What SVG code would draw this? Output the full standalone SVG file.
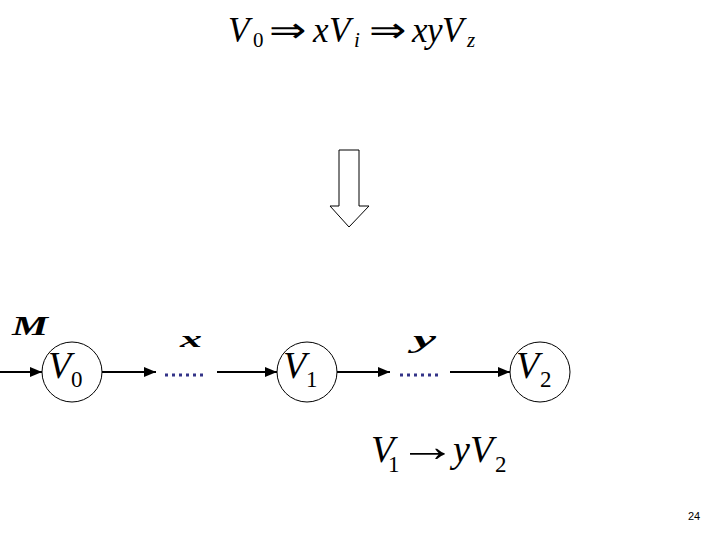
<svg xmlns="http://www.w3.org/2000/svg" width="720" height="540" viewBox="0 0 720 540">
<defs>
<style>
text.math{font-family:"Liberation Serif","Times New Roman",serif;fill:#000}
.it{font-style:italic}
.node circle{fill:#fff;stroke:#000;stroke-width:1}
.edge{stroke:#000;stroke-width:2;fill:none}
.dots{stroke:#333388;stroke-width:3;stroke-dasharray:3 4;fill:none}
.lbl{font-family:"Liberation Serif","Times New Roman",serif;font-style:italic;font-weight:bold;fill:#000}
</style>
<marker id="ah" markerUnits="userSpaceOnUse" markerWidth="13" markerHeight="11" refX="12" refY="5" orient="auto">
<path d="M0,0 L12,5 L0,10 z" fill="#000"/>
</marker>
</defs>
<rect width="720" height="540" fill="#fff"/>

<g id="top-equation">
<text class="math" font-family="Liberation Serif, serif" font-size="35"><tspan class="it" x="228" y="42">V</tspan><tspan x="253" y="47" font-size="21">0</tspan><tspan x="269" y="42" textLength="37" lengthAdjust="spacingAndGlyphs">⇒</tspan><tspan class="it" x="313" y="42">x</tspan><tspan class="it" x="329" y="42">V</tspan><tspan class="it" x="354" y="47" font-size="21">i</tspan><tspan x="369" y="42" textLength="37" lengthAdjust="spacingAndGlyphs">⇒</tspan><tspan class="it" x="412" y="42">x</tspan><tspan class="it" x="427" y="42">y</tspan><tspan class="it" x="442" y="42">V</tspan><tspan class="it" x="467" y="47" font-size="21">z</tspan></text>
</g>

<g id="block-arrow">
<polygon points="339,150 359,150 359,206 369,206 349,227 330,206 339,206" fill="#fff" stroke="#000" stroke-width="1"/>
</g>

<g id="connectors">
<line class="edge" x1="0" y1="372" x2="42" y2="372" marker-end="url(#ah)"/>
<line class="edge" x1="102" y1="372" x2="156" y2="372" marker-end="url(#ah)"/>
<line class="dots" x1="165" y1="375" x2="207" y2="375"/>
<line class="edge" x1="217" y1="372" x2="277" y2="372" marker-end="url(#ah)"/>
<line class="edge" x1="337" y1="372" x2="390" y2="372" marker-end="url(#ah)"/>
<line class="dots" x1="400" y1="375" x2="442" y2="375"/>
<line class="edge" x1="450" y1="372" x2="510" y2="372" marker-end="url(#ah)"/>
<text class="lbl" x="12" y="335" font-size="27" textLength="36" lengthAdjust="spacingAndGlyphs">M</text>
<text class="lbl" x="180" y="347" font-size="24" textLength="22" lengthAdjust="spacingAndGlyphs">x</text>
<text class="lbl" x="413" y="348" font-size="26" textLength="23" lengthAdjust="spacingAndGlyphs">y</text>
</g>

<g id="node-V0" class="node">
<circle cx="72" cy="372" r="30"/>
<text class="math" font-family="Liberation Serif, serif"><tspan class="it" x="48" y="378" font-size="38">V</tspan><tspan x="71" y="387" font-size="23">0</tspan></text>
</g>
<g id="node-V1" class="node">
<circle cx="307" cy="372" r="30"/>
<text class="math" font-family="Liberation Serif, serif"><tspan class="it" x="283" y="378" font-size="38">V</tspan><tspan x="306" y="387" font-size="23">1</tspan></text>
</g>
<g id="node-V2" class="node">
<circle cx="540" cy="372" r="30"/>
<text class="math" font-family="Liberation Serif, serif"><tspan class="it" x="516" y="378" font-size="38">V</tspan><tspan x="540" y="387" font-size="23">2</tspan></text>
</g>

<g id="bottom-equation">
<text class="math" font-family="Liberation Serif, serif" font-size="38"><tspan class="it" x="371" y="462">V</tspan><tspan x="388" y="472" font-size="23">1</tspan></text>
<text class="math" font-family="Liberation Serif, serif" font-size="38" x="0" y="0" transform="translate(398,461) scale(1.55,1.15)">→</text>
<text class="math" font-family="Liberation Serif, serif" font-size="38"><tspan class="it" x="453" y="462">y</tspan><tspan class="it" x="470" y="462">V</tspan><tspan x="495" y="472" font-size="23">2</tspan></text>
</g>

<text x="688" y="520" font-family="Liberation Sans, Arial, sans-serif" font-size="11" fill="#000">24</text>
</svg>
